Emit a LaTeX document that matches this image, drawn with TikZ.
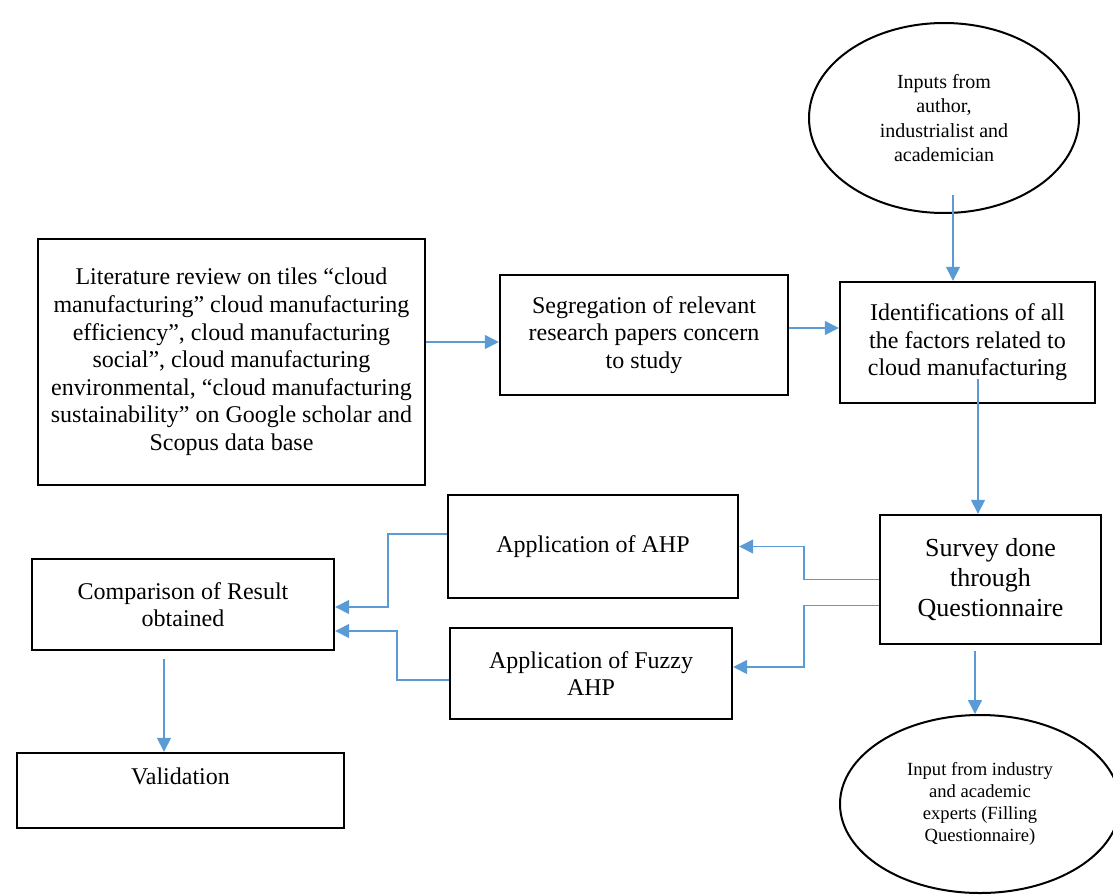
\documentclass[tikz,border=0pt]{standalone}
\usepackage{fontspec}
\setmainfont{Liberation Serif}
\usepackage{xcolor}
\usetikzlibrary{shapes.geometric, arrows.meta}
\definecolor{flowblue}{HTML}{5B9BD5}

\begin{document}
\begin{tikzpicture}[x=0.5pt, y=-0.5pt,
    box/.style={rectangle, draw, line width=1.2pt, align=center, inner sep=0pt, font=\fontsize{12}{13.8}\selectfont},
    oval/.style={ellipse, draw, line width=1pt, align=center, inner sep=0pt},
    flow/.style={draw=flowblue, line width=0.7pt, -{Triangle[length=7pt, width=7pt, fill=flowblue]}}]
        \useasboundingbox (0, 0) rectangle (1113, 894);

        % Boxes
        \node[box, minimum width=193.5pt, minimum height=123pt] (1) at (231.5, 362) {Literature review on tiles “cloud\\ manufacturing” cloud manufacturing\\ efficiency”, cloud manufacturing\\ social”, cloud manufacturing\\ environmental, “cloud manufacturing\\ sustainability” on Google scholar and\\ Scopus data base};
        \node[box, minimum width=144pt, minimum height=60pt] (2) at (644, 335) {Segregation of relevant\\ research papers concern\\ to study};
        \node[box, minimum width=127.5pt, minimum height=60.5pt] (3) at (967.5, 342.5) {Identifications of all\\ the factors related to\\ cloud manufacturing};
        \node[box, minimum width=110.5pt, minimum height=64.5pt, font=\fontsize{13}{15}\selectfont] (4) at (990.5, 579.5) {Survey done\\ through\\ Questionnaire};
        \node[box, minimum width=145pt, minimum height=51.5pt] (5) at (593, 546.5) {Application of AHP};
        \node[box, minimum width=141pt, minimum height=45.5pt] (6) at (591, 673.5) {Application of Fuzzy\\ AHP};
        \node[box, minimum width=151pt, minimum height=45.5pt] (7) at (183, 604.5) {Comparison of Result\\ obtained};
        \node[box, minimum width=163.5pt, minimum height=37.5pt, text height=15.5pt, text depth=22pt] (8) at (180.5, 790.5) {Validation};

        % Inputs
        \node[oval, minimum width=135pt, minimum height=95pt, font=\fontsize{10}{12.2}\selectfont] (9) at (944, 118) {Inputs from\\ author,\\ industrialist and\\ academician};
        \node[oval, minimum width=140pt, minimum height=89pt, font=\fontsize{9.3}{11}\selectfont] (10) at (980, 804) {Input from industry\\ and academic\\ experts (Filling\\ Questionnaire)};

        % Start points of the vertical arrows
        \coordinate (9s) at ([shift={(9,-19)}]9.south);
        \coordinate (3s) at ([shift={(10.5,-25)}]3.south);
        \coordinate (4s) at ([shift={(-15.5,6)}]4.south);
        \coordinate (7s) at ([shift={(-19,8)}]7.south);

        \draw[flow] ([yshift=10pt]1.east) -- ([yshift=10pt]1.east -| 2.west);
        \draw[flow] ([yshift=3.5pt]2.east) -- ([yshift=3.5pt]2.east -| 3.west);
        \draw[flow] (9s) -- (9s |- 3.north);
        \draw[flow] (3s) -- (3s |- 4.north);
        \draw[flow] (4s) -- (4s |- 10.north);
        \draw[flow] (4.west) -- ++(-75, 0) |- (5.east);
        \draw[flow] ([yshift=-13pt]4.west) -- ++(-75, 0) |- ([yshift=3.25pt]6.east);
        \draw[flow] ([yshift=6.25pt]5.west) -- ++(-59, 0) |- ([yshift=-1.25pt]7.east);
        \draw[flow] ([yshift=-3.25pt]6.west) -- ++(-52, 0) |- ([yshift=-13.25pt]7.east);
        \draw[flow] (7s) -- (7s |- 8.north);
    \end{tikzpicture}
\end{document}
